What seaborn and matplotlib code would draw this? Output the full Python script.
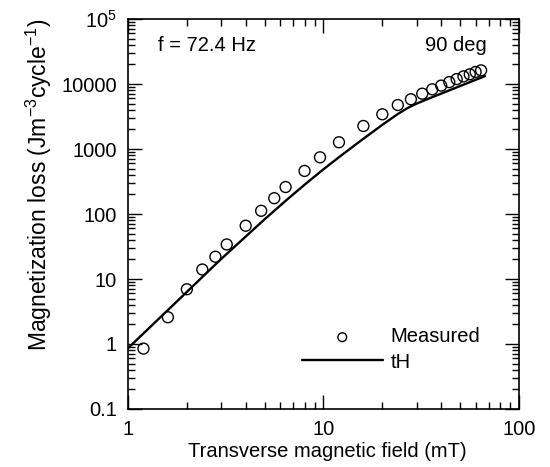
import pandas as pd
import matplotlib
matplotlib.use('Agg')
import matplotlib.pyplot as plt
import seaborn as sns
from matplotlib.ticker import LogLocator, NullFormatter

# measured points (mT, J m^-3 cycle^-1)
field_measured = [1.2, 1.6, 2.0, 2.4, 2.8, 3.2, 4.0, 4.8, 5.6, 6.4, 8.0, 9.6, 12, 16, 20,
                  24, 28, 32, 36, 40, 44, 48, 52, 56, 60, 64]
loss_measured = [0.85, 2.58, 6.95, 14, 22, 34, 66, 112, 175, 260, 460, 745, 1270, 2260, 3420,
                 4750, 5820, 7100, 8280, 9450, 10700, 11900, 13100, 14100, 15300, 16200]

# tH curve
field_th = [1.0, 2.0, 3.0, 5.0, 6.5, 8.0, 10.0, 12, 15, 20, 24, 27, 30, 35, 40, 50, 67]
loss_th = [0.86, 6.33, 20.4, 83, 166, 282, 488, 748, 1245, 2357, 3454, 4293, 5006, 6066,
           7120, 9310, 13240]

x_ticks = [1, 10, 100]
x_tick_labels = ['1', '10', '100']
y_ticks = [0.1, 1, 10, 100, 1000, 10000, 100000]
y_tick_labels = ['0.1', '1', '10', '100', '1000', '10000', '$10^5$']

sns.set_style('ticks')
plt.rcParams['font.family'] = ['Liberation Sans', 'DejaVu Sans']
plt.rcParams['mathtext.fontset'] = 'custom'
plt.rcParams['mathtext.rm'] = 'Liberation Sans'
plt.rcParams['mathtext.default'] = 'regular'
plt.rcParams['text.color'] = 'black'
plt.rcParams['axes.labelcolor'] = 'black'
plt.rcParams['xtick.color'] = 'black'
plt.rcParams['ytick.color'] = 'black'
fs = 14.5

meas_df = pd.DataFrame({'field': field_measured, 'loss': loss_measured})
th_df = pd.DataFrame({'field': field_th, 'loss': loss_th})

fig = plt.figure(figsize=(5.5, 4.67), dpi=100)
ax = fig.add_axes([0.2327, 0.1242, 0.7109, 0.8351])

sns.scatterplot(data=meas_df, x='field', y='loss', ax=ax, marker='o', s=62,
                facecolors='none', edgecolor='black', linewidth=1.0, label='Measured')
sns.lineplot(data=th_df, x='field', y='loss', ax=ax, color='black', linewidth=1.7, label='tH')

ax.set_xscale('log')
ax.set_yscale('log')
ax.set_xlim(1, 100)
ax.set_ylim(0.1, 1e5)
ax.set_xticks(x_ticks, x_tick_labels)
ax.set_yticks(y_ticks, y_tick_labels)
ax.xaxis.set_minor_locator(LogLocator(base=10, subs=range(2, 10), numticks=20))
ax.yaxis.set_minor_locator(LogLocator(base=10, subs=range(2, 10), numticks=20))
ax.xaxis.set_minor_formatter(NullFormatter())
ax.yaxis.set_minor_formatter(NullFormatter())
ax.tick_params(which='both', direction='in', top=True, right=True, color='black', width=1.0,
               labelsize=fs, labelcolor='black')
ax.tick_params(which='major', length=10, pad=8)
ax.tick_params(which='minor', length=5)
for s in ax.spines.values():
    s.set_color('black')
    s.set_linewidth(1.2)

ax.set_xlabel('Transverse magnetic field (mT)', fontsize=fs, color='black')
ax.set_ylabel('Magnetization loss (Jm$^{-3}$cycle$^{-1}$)', fontsize=16.5, color='black')
ax.xaxis.set_label_coords(0.511, -0.085)
ax.yaxis.set_label_coords(-0.189, 0.574)

ax.text(0.077, 0.933, 'f = 72.4 Hz', transform=ax.transAxes, fontsize=fs, va='center', ha='left')
ax.text(0.918, 0.933, '90 deg', transform=ax.transAxes, fontsize=fs, va='center', ha='right')

h, l = ax.get_legend_handles_labels()
ax.legend(h, l, loc='center left', bbox_to_anchor=(0.445, 0.1526), frameon=False, fontsize=fs,
          handlelength=4.0, handletextpad=0.4, labelspacing=0.3, borderpad=0, borderaxespad=0,
          markerscale=0.8, labelcolor='black')

fig.savefig('out.png', dpi=100)
